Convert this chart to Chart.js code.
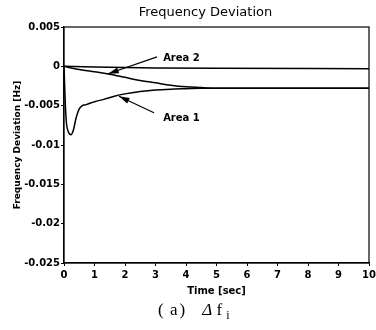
<!DOCTYPE html>
<html>
<head>
<meta charset="utf-8">
<script src="https://cdn.jsdelivr.net/npm/chart.js@4/dist/chart.umd.min.js"></script>
<style>
	body{margin:0;background:#fff;}
	#wrap{position:relative;width:376px;height:330px;}
	#caption{position:absolute;left:158px;top:300px;font-family:"Liberation Serif","DejaVu Serif",serif;font-size:17px;color:#000;white-space:nowrap;}
</style>
</head>
<body>
<div id="wrap">
	<canvas id="c" width="376" height="330"></canvas>
	<div id="caption">(<span style="letter-spacing:2px"> a</span>)&nbsp;&nbsp;&nbsp;&nbsp;<i>Δ</i>&nbsp;f&nbsp;<sub style="font-size:12px">i</sub></div>
</div>
<script>
// time axis (sec)
var area1_t = [0, 0.04, 0.08, 0.13, 0.18, 0.23, 0.3, 0.4, 0.5, 0.6, 0.7, 1.0, 1.3, 1.65, 2.0, 2.5, 3.0, 3.5, 4.0, 4.5, 5, 6, 7, 8, 9, 10];
var area1_v = [0, -0.0045, -0.0072, -0.0082, -0.0086, -0.0087, -0.0082, -0.0065, -0.0054, -0.005, -0.0049, -0.0045, -0.0042, -0.0038, -0.0035, -0.0032, -0.003, -0.0029, -0.00285, -0.0028, -0.0028, -0.0028, -0.0028, -0.0028, -0.0028, -0.0028];
var area2_t = [0, 0.5, 1.0, 1.5, 2.0, 2.5, 3.0, 3.5, 4.0, 4.5, 5, 6, 7, 8, 9, 10];
var area2_v = [0, -0.0004, -0.0007, -0.001, -0.0014, -0.0018, -0.0021, -0.0024, -0.0026, -0.0027, -0.0028, -0.0028, -0.0028, -0.0028, -0.0028, -0.0028];
var ref_t = [0, 1, 3, 5, 10];
var ref_v = [0, -0.0001, -0.0002, -0.00025, -0.0003];
var y_ticks = [0.005, 0, -0.005, -0.01, -0.015, -0.02, -0.025];
var x_ticks = [0, 1, 2, 3, 4, 5, 6, 7, 8, 9, 10];
var title = 'Frequency Deviation';
// labels: [text, text t, text v, arrow tail t, tail v, tip t, tip v]
var notes = [
	['Area 2', 3.25, 0.001, 3.05, 0.0012, 1.45, -0.00095],
	['Area 1', 3.25, -0.0066, 2.95, -0.0059, 1.8, -0.0038]
];

var FONT = '"DejaVu Sans", "Liberation Sans", sans-serif';

function pts(t, v){
	return t.map(function(x, i){ return {x: x, y: v[i]}; });
}

var frame = {
	id: 'frame',
	afterDraw: function(chart){
		var ctx = chart.ctx, a = chart.chartArea;
		var xs = chart.scales.x, ys = chart.scales.y;
		ctx.save();
		ctx.strokeStyle = '#000';
		ctx.lineWidth = 1.2;
		ctx.strokeRect(a.left, a.top, a.right - a.left, a.bottom - a.top);
		ctx.fillStyle = '#000';
		// title
		ctx.font = '13px ' + FONT;
		ctx.textAlign = 'center';
		ctx.textBaseline = 'middle';
		ctx.fillText(title, (a.left + a.right) / 2 - 11, 13);
		ctx.textAlign = 'left';
		ctx.font = 'bold 10px ' + FONT;
		notes.forEach(function(n){
			ctx.fillText(n[0], xs.getPixelForValue(n[1]), ys.getPixelForValue(n[2]));
			var x0 = xs.getPixelForValue(n[3]), y0 = ys.getPixelForValue(n[4]);
			var x1 = xs.getPixelForValue(n[5]), y1 = ys.getPixelForValue(n[6]);
			ctx.beginPath();
			ctx.moveTo(x0, y0);
			ctx.lineTo(x1, y1);
			ctx.lineWidth = 1.2;
			ctx.stroke();
			var ang = Math.atan2(y1 - y0, x1 - x0);
			ctx.beginPath();
			ctx.moveTo(x1, y1);
			ctx.lineTo(x1 - 11 * Math.cos(ang - 0.28), y1 - 11 * Math.sin(ang - 0.28));
			ctx.lineTo(x1 - 11 * Math.cos(ang + 0.28), y1 - 11 * Math.sin(ang + 0.28));
			ctx.closePath();
			ctx.fill();
		});
		ctx.restore();
	}
};

var line = function(label, data){
	return {
		label: label,
		data: data,
		borderColor: '#000',
		borderWidth: 1.5,
		pointRadius: 0,
		fill: false,
		cubicInterpolationMode: 'monotone'
	};
};

new Chart(document.getElementById('c'), {
	type: 'line',
	data: {
		datasets: [
			line('Area 1', pts(area1_t, area1_v)),
			line('Area 2', pts(area2_t, area2_v)),
			line('Ref', pts(ref_t, ref_v))
		]
	},
	options: {
		responsive: false,
		animation: false,
		layout: {padding: {left: 0, right: 0, top: 27, bottom: 33}},
		plugins: {
			legend: {display: false},
			tooltip: {enabled: false},
			title: {display: false}
		},
		scales: {
			x: {
				type: 'linear',
				min: 0, max: 10,
				afterBuildTicks: function(s){ s.ticks = x_ticks.map(function(v){ return {value: v}; }); },
				afterFit: function(s){ s.height = 34; s.paddingRight = 7; },
				grid: {drawOnChartArea: false, drawTicks: true, tickLength: 3, color: '#000'},
				border: {display: true, color: '#000', width: 1.2},
				ticks: {color: '#000', padding: 3, maxRotation: 0, font: {family: FONT, size: 10, weight: 'bold'}},
				title: {display: true, text: 'Time [sec]', color: '#000', padding: {top: 0, bottom: 0}, font: {family: FONT, size: 10, weight: 'bold'}}
			},
			y: {
				min: -0.025, max: 0.005,
				afterBuildTicks: function(s){ s.ticks = y_ticks.map(function(v){ return {value: v}; }); },
				afterFit: function(s){ s.width = 64; },
				grid: {drawOnChartArea: false, drawTicks: true, tickLength: 3, color: '#000'},
				border: {display: true, color: '#000', width: 1.2},
				ticks: {color: '#000', padding: 1, font: {family: FONT, size: 10, weight: 'bold'},
					callback: function(v){ return String(Math.round(v * 1000) / 1000); }},
				title: {display: true, text: 'Frequency Deviation [Hz]', color: '#000', padding: {top: 12, bottom: 0}, font: {family: FONT, size: 9, weight: 'bold'}}
			}
		}
	},
	plugins: [frame]
});
</script>
</body>
</html>
